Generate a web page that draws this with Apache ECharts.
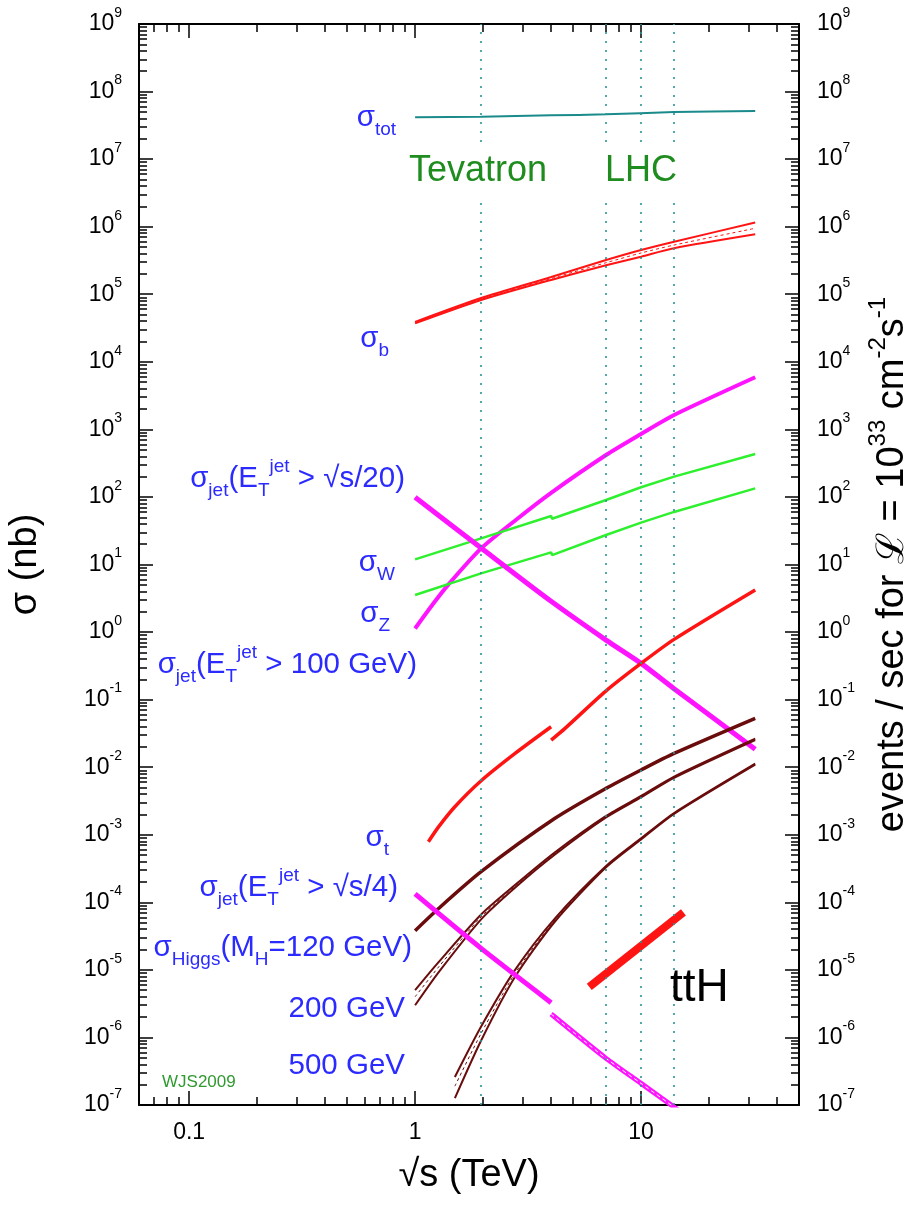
<!DOCTYPE html>
<html>
<head>
<meta charset="utf-8">
<script src="https://cdn.jsdelivr.net/npm/echarts@6/dist/echarts.min.js"></script>
<style>
  html, body { margin: 0; padding: 0; background: #fff; }
  #chart { width: 912px; height: 1205px; }
</style>
</head>
<body>
<div id="chart"></div>
<script>
// axis ranges and ticks
const X_MIN = 0.06, X_MAX = 50
const Y_MIN = 1e-7, Y_MAX = 1e9
const X_TICKS = [0.1, 1, 10]
const X_MINOR = [0.07, 0.08, 0.09, 0.2, 0.3, 0.4, 0.5, 0.6, 0.7, 0.8, 0.9, 2, 3, 4, 5, 6, 7, 8, 9, 20, 30, 40]
const Y_TICKS = [1e-7, 1e-6, 1e-5, 1e-4, 1e-3, 1e-2, 1e-1, 1, 1e1, 1e2, 1e3, 1e4, 1e5, 1e6, 1e7, 1e8, 1e9]
const MINOR_STEPS = [2, 3, 4, 5, 6, 7, 8, 9]
const Y_MINOR = Y_TICKS.slice(0, -1).flatMap(d => MINOR_STEPS.map(m => +(m * d).toPrecision(3)))
const COLLIDER_ENERGIES = [1.96, 7, 10, 14]   // Tevatron, LHC 7/10/14 TeV

// cross sections [sqrt(s) TeV, sigma nb]
const sigmaTot = [[1, 4.16e7], [1.96, 4.25e7], [4, 4.45e7], [7, 4.6e7], [14, 4.98e7], [32, 5.15e7]]
const sigmaBUpper = [[1, 3.9e4], [1.96, 8.8e4], [4, 1.8e5], [7, 3.21e5], [10, 4.52e5], [14, 6.0e5], [32, 1.15e6]]
const sigmaBCentre = [[1, 3.8e4], [1.96, 8.5e4], [4, 1.71e5], [7, 2.93e5], [10, 4.08e5], [14, 5.35e5], [32, 9.46e5]]
const sigmaBLower = [[1, 3.7e4], [1.96, 8.2e4], [4, 1.63e5], [7, 2.68e5], [10, 3.6e5], [14, 4.79e5], [32, 7.7e5]]
const jetFallHigh = [[1, 98.7], [1.96, 17.5], [4, 2.85], [7, 0.76], [10, 0.344], [14, 0.145], [32, 0.0184]]
const jetRise = [[1, 1.13], [1.2, 2.6], [1.4, 5.0], [1.96, 17.3], [2.8, 46], [4, 115], [7, 417], [10, 853], [14, 1630], [32, 5900]]
const sigmaW = [[1, 11.9], [1.96, 24.4], [4, 52.2], [4.04, 47.6], [7, 90], [10, 139], [14, 200], [32, 431]]
const sigmaZ = [[1, 3.53], [1.96, 7.4], [4, 15.1], [4.04, 13.8], [7, 27.3], [10, 41.6], [14, 60], [32, 134]]
const jet100Ppbar = [[1.145, 7.9e-4], [1.27, 1.31e-3], [1.5, 2.6e-3], [1.96, 6.3e-3], [2.77, 0.016], [4, 0.0397]]
const jet100Pp = [[4, 0.0252], [4.61, 0.0376], [7, 0.135], [10, 0.344], [14, 0.78], [32, 4.2]]
const sigmaTop = [[1, 3.8e-5], [1.27, 8.1e-5], [1.96, 2.84e-4], [4.16, 1.75e-3], [7, 4.86e-3], [10, 9.1e-3], [14, 0.016], [32, 0.0529]]
const higgsMidUpper = [[1, 5.0e-6], [1.27, 1.3e-5], [1.96, 6.6e-5], [2.8, 1.86e-4], [4.16, 5.5e-4], [7, 1.9e-3], [10, 3.75e-3], [14, 7.25e-3], [32, 0.0264]]
const higgsMidCentre = [[1, 4.0e-6], [1.27, 1.1e-5], [1.96, 6.1e-5], [2.8, 1.78e-4], [4.16, 5.3e-4], [7, 1.85e-3], [10, 3.66e-3], [14, 7.1e-3], [32, 0.0258]]
const higgsMidLower = [[1, 3.0e-6], [1.27, 0.92e-5], [1.96, 5.6e-5], [2.8, 1.7e-4], [4.16, 5.1e-4], [7, 1.8e-3], [10, 3.57e-3], [14, 6.95e-3], [32, 0.0252]]
const higgsLowUpper = [[1.5, 2.6e-7], [1.96, 1.45e-6], [2.77, 1.0e-5], [4.16, 5.8e-5], [7, 3.45e-4], [10, 8.85e-4], [14, 2.1e-3], [32, 0.0113]]
const higgsLowCentre = [[1.5, 1.9e-7], [1.96, 1.15e-6], [2.77, 8.9e-6], [4.16, 5.5e-5], [7, 3.37e-4], [10, 8.7e-4], [14, 2.07e-3], [32, 0.0111]]
const higgsLowLower = [[1.5, 1.26e-7], [1.96, 0.9e-6], [2.77, 7.9e-6], [4.16, 5.2e-5], [7, 3.3e-4], [10, 8.55e-4], [14, 2.04e-3], [32, 0.0109]]
const jetFallLowPpbar = [[1, 1.33e-4], [1.96, 2.08e-5], [4, 3.27e-6]]
const jetFallLowPp = [[4, 2.22e-6], [7, 4.9e-7], [10, 2.09e-7], [15, 7.9e-8]]
const ttH = [[5.9, 5.6e-6], [15.4, 7.1e-5]]

const FONT = '"Liberation Sans", Arial, Helvetica, sans-serif'
const BLUE = '#2b2bff'
const RED = '#ff1414'
const MAGENTA = '#ff14ff'
const GREEN = '#2ef02e'
const BROWN = '#6a0c0c'
const TEAL = '#1a8a8a'

function logX(position, ticks, len, extra) {
  return Object.assign({
    type: 'log', logBase: 10, min: X_MIN, max: X_MAX, position,
    axisLine: { show: true, onZero: false, lineStyle: { color: '#000', width: 2 } },
    axisTick: { show: true, inside: true, length: len, customValues: ticks, lineStyle: { color: '#000', width: 1.5 } },
    axisLabel: { show: false },
    splitLine: { show: false }
  }, extra || {})
}
function logY(position, ticks, len, extra) {
  return Object.assign({
    type: 'log', logBase: 10, min: Y_MIN, max: Y_MAX, position,
    axisLine: { show: true, onZero: false, lineStyle: { color: '#000', width: 2 } },
    axisTick: { show: true, inside: true, length: len, customValues: ticks, lineStyle: { color: '#000', width: 1.5 } },
    axisLabel: { show: false },
    splitLine: { show: false }
  }, extra || {})
}
const powLabel = {
  show: true, customValues: Y_TICKS, margin: 17, color: '#000', fontFamily: FONT, fontSize: 23, lineHeight: 36,
  formatter: v => '10{s|' + Math.round(Math.log10(v)) + '}',
  rich: { s: { fontSize: 14, lineHeight: 14, verticalAlign: 'top', fontFamily: FONT, color: '#000' } }
}

function curve(data, color, width, extra) {
  return Object.assign({
    type: 'line', data, xAxisIndex: 0, yAxisIndex: 0,
    showSymbol: false, symbol: 'none', smooth: 0.25,
    lineStyle: { color, width }, silent: true, z: 3
  }, extra || {})
}

function rich(size, color) {
  const s = Math.round(size * 0.64)
  return {
    sub: { fontSize: s, lineHeight: s, verticalAlign: 'bottom', fill: color, fontFamily: FONT },
    sup: { fontSize: s, lineHeight: s - 2, verticalAlign: 'top', fill: color, fontFamily: FONT }
  }
}
function label(x, baseline, text, opt) {
  opt = opt || {}
  const size = opt.size || 29.5, color = opt.color || BLUE
  const style = {
    text, fill: color, fontSize: size, fontFamily: FONT, lineHeight: Math.round(size * 1.45),
    align: opt.align || 'right', verticalAlign: 'middle', rich: rich(size, color)
  }
  if (opt.bg) { style.backgroundColor = opt.bg; style.padding = [0, 3] }
  return { type: 'text', z: 100, x, y: baseline - 0.3 * size, style }
}

const chart = echarts.init(document.getElementById('chart'))
chart.setOption({
  animation: false,
  backgroundColor: '#fff',
  grid: { left: 139, right: 113, top: 24, bottom: 100, containLabel: false, outerBoundsMode: 'none' },
  xAxis: [
    logX('bottom', X_TICKS, 14, {
      axisLabel: { show: true, customValues: X_TICKS, margin: 16, color: '#000', fontFamily: FONT, fontSize: 23, formatter: v => String(+v.toPrecision(4)) },
      name: '√s (TeV)', nameLocation: 'middle', nameGap: 52,
      nameTextStyle: { color: '#000', fontFamily: FONT, fontSize: 38 }
    }),
    logX('top', X_TICKS, 14),
    logX('bottom', X_MINOR, 8, { axisLine: { show: false } }),
    logX('top', X_MINOR, 8, { axisLine: { show: false } })
  ],
  yAxis: [
    logY('left', Y_TICKS, 14, {
      axisLabel: powLabel,
      name: 'σ (nb)', nameLocation: 'middle', nameRotate: 90, nameGap: 94,
      nameTextStyle: { color: '#000', fontFamily: FONT, fontSize: 38 }
    }),
    logY('right', Y_TICKS, 14, {
      axisLabel: Object.assign({}, powLabel, { margin: 18 }),
      name: 'events / sec for ℒ = 10{s|33} cm{s|-2}s{s|-1}', nameLocation: 'middle', nameRotate: 90, nameGap: 66,
      nameTextStyle: {
        color: '#000', fontFamily: FONT, fontSize: 38, lineHeight: 54,
        rich: { s: { fontSize: 24, lineHeight: 24, verticalAlign: 'top', fontFamily: FONT, color: '#000' } }
      }
    }),
    logY('left', Y_MINOR, 8, { axisLine: { show: false } }),
    logY('right', Y_MINOR, 8, { axisLine: { show: false } })
  ],
  series: [
    curve(sigmaTot, TEAL, 2, {
      markLine: {
        symbol: 'none', silent: true, animation: false, label: { show: false },
        lineStyle: { color: '#2a9494', width: 1.6, type: [2, 7] },
        data: COLLIDER_ENERGIES.map(v => ({ xAxis: v }))
      }
    }),
    curve(sigmaBUpper, RED, 2),
    curve(sigmaBLower, RED, 2),
    curve(sigmaBCentre, RED, 1, { lineStyle: { color: RED, width: 1, type: [3, 3] } }),
    curve(jetRise, MAGENTA, 4),
    curve(sigmaW, GREEN, 2.5, { smooth: false }),
    curve(sigmaZ, GREEN, 2.5, { smooth: false }),
    curve(jetFallHigh, MAGENTA, 5),
    curve(jet100Ppbar, RED, 3.5),
    curve(jet100Pp, RED, 3.5),
    curve(sigmaTop, BROWN, 3.5),
    curve(higgsMidUpper, BROWN, 2),
    curve(higgsMidLower, BROWN, 2),
    curve(higgsMidCentre, BROWN, 1, { lineStyle: { color: BROWN, width: 1, type: [3, 3] } }),
    curve(higgsLowUpper, BROWN, 2),
    curve(higgsLowLower, BROWN, 2),
    curve(higgsLowCentre, BROWN, 1, { lineStyle: { color: BROWN, width: 1, type: [3, 3] } }),
    curve(jetFallLowPpbar, MAGENTA, 5),
    curve(jetFallLowPp, MAGENTA, 5),
    curve(jetFallLowPp, '#fff', 1, { lineStyle: { color: '#fff', width: 1, type: [4, 3] }, z: 4 }),
    curve(ttH, RED, 8, { smooth: false })
  ],
  graphic: [
    label(396, 127, 'σ{sub|tot}'),
    label(406, 182, 'Tevatron', { size: 36, color: '#1f8c1f', align: 'left', bg: '#fff' }),
    label(602, 182, 'LHC', { size: 36, color: '#1f8c1f', align: 'left', bg: '#fff' }),
    label(389, 348, 'σ{sub|b}'),
    label(405, 488, 'σ{sub|jet}(E{sub|T}{sup|jet} > √s/20)'),
    label(395, 572, 'σ{sub|W}'),
    label(390, 623, 'σ{sub|Z}'),
    label(417, 674, 'σ{sub|jet}(E{sub|T}{sup|jet} > 100 GeV)'),
    label(389, 847, 'σ{sub|t}'),
    label(398, 897, 'σ{sub|jet}(E{sub|T}{sup|jet} > √s/4)'),
    label(412, 957, 'σ{sub|Higgs}(M{sub|H}=120 GeV)'),
    label(405, 1018, '200 GeV'),
    label(405, 1075, '500 GeV'),
    label(162, 1087, 'WJS2009', { size: 17, color: '#2f9a2f', align: 'left' }),
    label(670, 1002, 'ttH', { size: 46, color: '#000', align: 'left' })
  ]
})
</script>
</body>
</html>
